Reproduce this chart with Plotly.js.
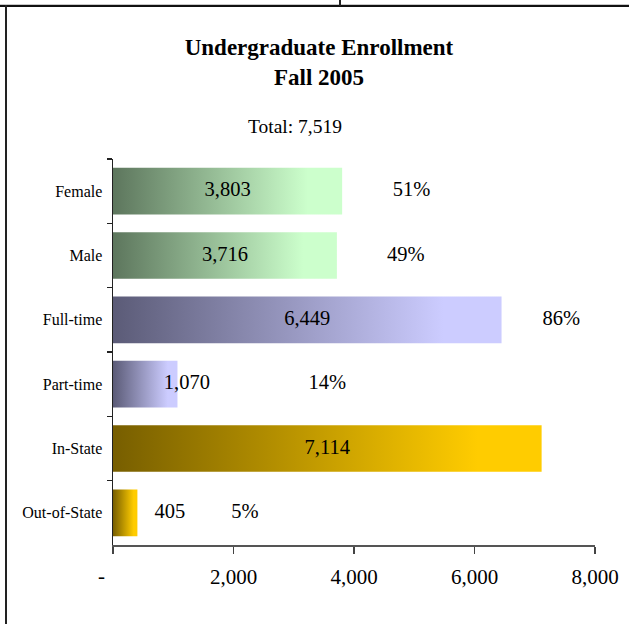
<!DOCTYPE html>
<html>
<head>
<meta charset="utf-8">
<script src="https://cdn.plot.ly/plotly-3.0.1.min.js"></script>
<style>
  html, body { margin: 0; padding: 0; background: #fff; }
  #wrap { position: relative; width: 629px; height: 624px; overflow: hidden; }
  #chart { position: absolute; left: 0; top: 0; width: 629px; height: 624px; }
  .frame { position: absolute; z-index: 5; }
</style>
</head>
<body>
<div id="wrap">
  <div id="chart"></div>
  <div class="frame" style="left:0;top:4px;width:629px;height:1px;background:#c8c8c8;"></div>
  <div class="frame" style="left:0;top:5px;width:629px;height:2px;background:#111;"></div>
  <div class="frame" style="left:5px;top:5px;width:2px;height:619px;background:#222;"></div>
  <div class="frame" style="left:339px;top:0;width:2px;height:6px;background:#222;"></div>
</div>
<script>
// ---- data ----
const categories = ['Female', 'Male', 'Full-time', 'Part-time', 'In-State', 'Out-of-State'];
const enrollment = [3803, 3716, 6449, 1070, 7114, 405];
const totalEnrollment = 7519;
const xTickVals = [0, 2000, 4000, 6000, 8000];
const xTickText = ['', '2,000', '4,000', '6,000', '8,000'];

// ---- label placement (layout, in axis units) ----
const valueLabelX = [1902, 1858, 3225, 1227, 3557, 945];
const pctLabelX = [4953, 4858, 7440, 3557, 8105, 2189];

// ---- style ----
const FONT = 'Liberation Serif, Times New Roman, serif';
const gradients = [
  ['#5d765d', '#ccffcc'],
  ['#5d765d', '#ccffcc'],
  ['#5b5b77', '#ccccff'],
  ['#5b5b77', '#ccccff'],
  ['#775e00', '#ffcc00'],
  ['#775e00', '#ffcc00']
];

const valueText = enrollment.map(v => v.toLocaleString('en-US'));
const pctText = enrollment.map(v => Math.round(100 * v / totalEnrollment) + '%');

const traces = [
  {
    type: 'bar', orientation: 'h',
    y: categories, x: enrollment,
    width: 0.726,
    marker: { color: gradients.map(g => g[1]), line: { width: 0 } },
    hoverinfo: 'skip'
  },
  {
    type: 'scatter', mode: 'text',
    y: categories, x: valueLabelX, text: valueText,
    textposition: 'middle center',
    textfont: { family: FONT, size: 20.5, color: '#000' },
    cliponaxis: false, hoverinfo: 'skip'
  },
  {
    type: 'scatter', mode: 'text',
    y: categories, x: pctLabelX, text: pctText,
    textposition: 'middle center',
    textfont: { family: FONT, size: 20.5, color: '#000' },
    cliponaxis: false, hoverinfo: 'skip'
  }
];

const layout = {
  width: 629, height: 624,
  margin: { l: 113, r: 33.5, t: 159, b: 78.5, pad: 0 },
  paper_bgcolor: '#fff', plot_bgcolor: '#fff',
  showlegend: false,
  font: { family: FONT, color: '#000' },
  title: {
    text: 'Undergraduate Enrollment<br>Fall 2005',
    font: { family: FONT, size: 23, weight: 'bold', color: '#000' },
    x: 319 / 629, xanchor: 'center', xref: 'container',
    y: 1 - 55 / 624, yanchor: 'top', yref: 'container'
  },
  xaxis: {
    range: [0, 8000], fixedrange: true,
    tickvals: xTickVals, ticktext: xTickText,
    ticks: 'outside', ticklen: 7, tickwidth: 1.5, tickcolor: '#444',
    showline: true, linecolor: '#555', linewidth: 1.5,
    showgrid: false, zeroline: false,
    tickfont: { family: FONT, size: 21, color: '#000' },
    ticklabelstandoff: 5
  },
  yaxis: {
    type: 'category', range: [5.5, -0.5], fixedrange: true,
    ticks: 'outside', ticklen: 5, tickwidth: 1.5, tickcolor: '#222',
    tickson: 'boundaries',
    showline: true, linecolor: '#222', linewidth: 1.5,
    showgrid: false, zeroline: false,
    tickfont: { family: FONT, size: 16, color: '#000' },
    ticklabelstandoff: 6
  },
  annotations: [
    {
      text: 'Total: 7,519', showarrow: false,
      xref: 'paper', yref: 'paper',
      x: (295.5 - 113) / 482.5, y: (545.5 - 126) / 386.5,
      xanchor: 'center', yanchor: 'middle',
      font: { family: FONT, size: 19.5, color: '#000' }
    },
    {
      text: '-', showarrow: false,
      xref: 'x', yref: 'paper', x: 0, y: 0,
      xanchor: 'center', yanchor: 'middle',
      xshift: -12, yshift: -31,
      font: { family: FONT, size: 21, color: '#000' }
    }
  ]
};

Plotly.newPlot('chart', traces, layout, { staticPlot: true, displayModeBar: false }).then(gd => {
  const NS = 'http://www.w3.org/2000/svg';
  const svg = gd.querySelector('svg.main-svg');
  let defs = svg.querySelector('defs');
  if (!defs) { defs = document.createElementNS(NS, 'defs'); svg.insertBefore(defs, svg.firstChild); }
  gradients.forEach((g, i) => {
    const lg = document.createElementNS(NS, 'linearGradient');
    lg.setAttribute('id', 'barGrad' + i);
    lg.setAttribute('x1', '0'); lg.setAttribute('y1', '0');
    lg.setAttribute('x2', '1'); lg.setAttribute('y2', '0');
    [[0, g[0]], [0.85, g[1]], [1, g[1]]].forEach(([o, c]) => {
      const st = document.createElementNS(NS, 'stop');
      st.setAttribute('offset', o);
      st.setAttribute('stop-color', c);
      lg.appendChild(st);
    });
    defs.appendChild(lg);
  });
  const paths = gd.querySelectorAll('.barlayer .trace .point path');
  paths.forEach((p, i) => { p.style.fill = 'url(#barGrad' + i + ')'; });
});
</script>
</body>
</html>
